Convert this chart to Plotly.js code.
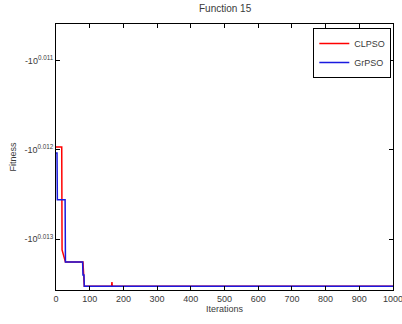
<!DOCTYPE html>
<html>
<head>
<meta charset="utf-8">
<script src="https://cdn.plot.ly/plotly-3.0.1.min.js"></script>
<style>
  html, body { margin: 0; padding: 0; background: #fff; }
  #chart { width: 402px; height: 324px; }
</style>
</head>
<body>
<div id="chart"></div>
<script>
// Best fitness per iteration on Function 15
const clpsoIter = [0, 17, 18, 27, 28, 80, 82, 84, 165, 166, 167, 1000];
const clpsoFit  = [-1.02794, -1.02794, -1.03067, -1.03099, -1.03099, -1.03099,
                   -1.03155, -1.03163, -1.03163, -1.03152, -1.03163, -1.03163];

const grpsoIter = [0, 3, 4, 27, 28, 79, 80, 83, 84, 1000];
const grpsoFit  = [-1.02810, -1.02810, -1.02934, -1.02934, -1.03099, -1.03099,
                   -1.03133, -1.03133, -1.03163, -1.03163];

// Axis ticks
const xTicks = [0, 100, 200, 300, 400, 500, 600, 700, 800, 900, 1000];
const yExponents = ['0.011', '0.012', '0.013'];
const yTickVals = yExponents.map(e => -Math.pow(10, parseFloat(e)));
const yTickText = yExponents.map(e => '-10<sup>' + e + '</sup>');

const txt = '#3a3a3a';
const font = { family: 'Liberation Sans, Arial, sans-serif', size: 9, color: txt };

const traces = [
  {
    x: clpsoIter, y: clpsoFit, name: 'CLPSO', type: 'scatter', mode: 'lines',
    line: { color: '#ff0000', width: 1.5 }
  },
  {
    x: grpsoIter, y: grpsoFit, name: 'GrPSO', type: 'scatter', mode: 'lines',
    line: { color: '#1a1adf', width: 1.5 }
  }
];

const layout = {
  width: 402, height: 324,
  margin: { l: 56, r: 9, t: 24, b: 34 },
  paper_bgcolor: '#fff', plot_bgcolor: '#fff',
  font: font,
  showlegend: true,
  title: { text: 'Function 15', font: { family: font.family, size: 10, color: txt }, x: 0.56, xanchor: 'center', y: 0.985, yanchor: 'top' },
  xaxis: {
    range: [0, 1000],
    tickvals: xTicks, ticktext: xTicks.map(String),
    ticks: 'inside', ticklen: 4, tickcolor: '#000', tickwidth: 1,
    showline: true, linecolor: '#000', linewidth: 1, mirror: 'allticks',
    showgrid: false, zeroline: false, ticklabeloverflow: 'allow',
    tickfont: { family: font.family, size: 9, color: txt },
    title: { text: 'Iterations', font: { family: font.family, size: 9, color: txt }, standoff: 2 }
  },
  yaxis: {
    range: [-1.03173, -1.02468],
    tickvals: yTickVals, ticktext: yTickText,
    ticks: 'inside', ticklen: 4, tickcolor: '#000', tickwidth: 1,
    showline: true, linecolor: '#000', linewidth: 1, mirror: 'allticks',
    showgrid: false, zeroline: false,
    tickfont: { family: font.family, size: 9, color: txt },
    title: { text: 'Fitness', font: { family: font.family, size: 9, color: txt }, standoff: 6 }
  },
  legend: {
    x: 0.995, y: 0.985, xanchor: 'right', yanchor: 'top',
    bgcolor: '#fff', bordercolor: '#000', borderwidth: 1,
    font: { family: font.family, size: 9, color: txt },
    tracegroupgap: 0, itemwidth: 30
  }
};

Plotly.newPlot('chart', traces, layout, { staticPlot: true, displayModeBar: false });
</script>
</body>
</html>
